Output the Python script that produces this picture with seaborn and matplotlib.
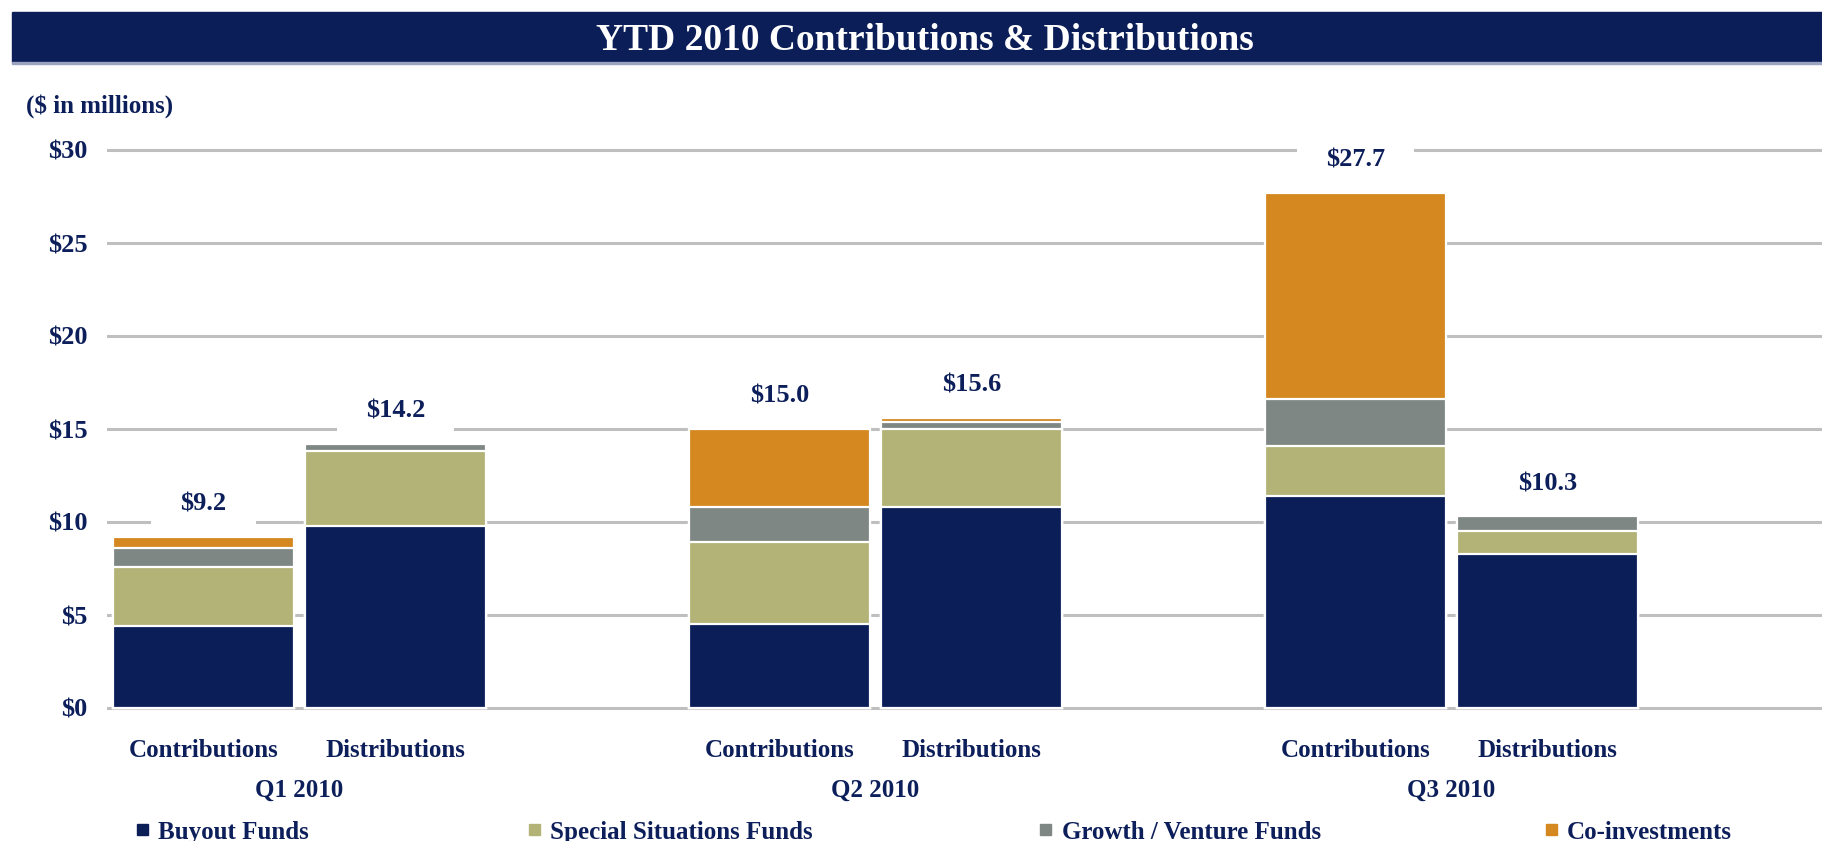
import matplotlib
matplotlib.use('Agg')
import matplotlib.pyplot as plt
import matplotlib.transforms as mtransforms
from matplotlib.patches import Rectangle
import seaborn as sns

# Data ($ in millions)
periods = ['Q1 2010', 'Q2 2010', 'Q3 2010']
flows = ['Contributions', 'Distributions']
buyout = [4.4, 9.8, 4.5, 10.8, 11.4, 8.3]
special = [3.2, 4.0, 4.4, 4.2, 2.7, 1.2]
growth = [1.0, 0.4, 1.9, 0.4, 2.5, 0.8]
coinv = [0.6, 0.0, 4.2, 0.2, 11.1, 0.0]
totals = [9.2, 14.2, 15.0, 15.6, 27.7, 10.3]
series_names = ['Buyout Funds', 'Special Situations Funds',
                'Growth / Venture Funds', 'Co-investments']
yticks = [0, 5, 10, 15, 20, 25, 30]

navy = '#0B1E58'
colors = [navy, '#B3B378', '#7F8784', '#D4881F']
text_c = '#0D1F5A'

sns.set_theme(style='white')
plt.rcParams['font.family'] = ['Liberation Serif', 'DejaVu Serif']
plt.rcParams['font.weight'] = 'bold'

W, H = 1822, 841
fig = plt.figure(figsize=(W / 100, H / 100), dpi=100)

# bar positions: two bars per quarter, gap of one slot between quarters
pos = [g * 3 + k for g in range(len(periods)) for k in range(len(flows))]

px_unit = 192.0
y_px = 18.6
x0_px = 203.5
ax_left = 107
ylo, yhi = -0.3, 30.5
ax_bottom_px = 708 + (-ylo) * y_px
ax = fig.add_axes([ax_left / W, (H - ax_bottom_px) / H,
                   1 - ax_left / W, (yhi - ylo) * y_px / H])

# stacked bars: draw cumulative layers from the top down
layers = [buyout, special, growth, coinv]
cums = []
run = [0.0] * len(pos)
for layer in layers:
    run = [a + b for a, b in zip(run, layer)]
    cums.append(run)
for cum, col in reversed(list(zip(cums, colors))):
    sns.barplot(x=pos, y=cum, native_scale=True, width=0.94, color=col,
                saturation=1, errorbar=None, edgecolor='white',
                linewidth=1.6, zorder=3, ax=ax)

ax.set_xlim((ax_left - x0_px) / px_unit, (W - x0_px) / px_unit)
ax.set_ylim(ylo, yhi)
ax.set_axisbelow(True)
ax.yaxis.grid(True, color='#BFBFBF', linewidth=2.2)
ax.xaxis.grid(False)
for s in ax.spines.values():
    s.set_visible(False)
ax.set_xticks([])
ax.set_yticks(yticks)
ax.set_yticklabels([f'${v}' for v in yticks], fontsize=19,
                   color=text_c, fontweight='bold')
ax.tick_params(axis='y', length=0, pad=14)
ax.set_xlabel('')
ax.set_ylabel('')

# total labels on white boxes that break the gridlines
for x, t in zip(pos, totals):
    ax.annotate(f'${t:.1f}', (x, t), xytext=(0, 23.5),
                textcoords='offset points', ha='center', va='center',
                fontsize=19, fontweight='bold', color=text_c, zorder=2,
                bbox=dict(boxstyle='square,pad=1.1', fc='white', ec='none'))

# category and quarter labels under the axis
trans = mtransforms.blended_transform_factory(ax.transData, fig.transFigure)
for i, x in enumerate(pos):
    ax.text(x, 1 - 757 / H, flows[i % 2], transform=trans, ha='center',
            va='baseline', fontsize=18, fontweight='bold', color=text_c)
for g, p in enumerate(periods):
    ax.text(g * 3 + 0.5, 1 - 797 / H, p, transform=trans, ha='center',
            va='baseline', fontsize=18, fontweight='bold', color=text_c)

# title banner
fig.patches.append(Rectangle((12 / W, 1 - 62 / H), 1 - 12 / W, 50 / H,
                             transform=fig.transFigure, color=navy, zorder=0))
fig.patches.append(Rectangle((12 / W, 1 - 64 / H), 1 - 12 / W, 2 / H,
                             transform=fig.transFigure, color='#9AA3BF', zorder=0))
fig.text(925 / W, 1 - 50 / H, 'YTD 2010 Contributions & Distributions',
         ha='center', va='baseline', fontsize=27, fontweight='bold', color='white')
fig.text(26 / W, 1 - 106 / H, '($ in millions)', ha='left', va='center',
         fontsize=18, fontweight='bold', color=text_c)

# legend along the bottom edge
sq_x = [142.5, 534, 1045, 1551]
txt_x = [158, 550, 1062, 1567]
for name, col, sx, tx in zip(series_names, colors, sq_x, txt_x):
    fig.patches.append(Rectangle(((sx - 5.5) / W, (H - 835) / H), 11 / W, 11 / H,
                                 transform=fig.transFigure, color=col))
    fig.text(tx / W, 2 / H, name, ha='left', va='baseline', fontsize=18,
             fontweight='bold', color=text_c)

plt.savefig('out.png', dpi=100)
